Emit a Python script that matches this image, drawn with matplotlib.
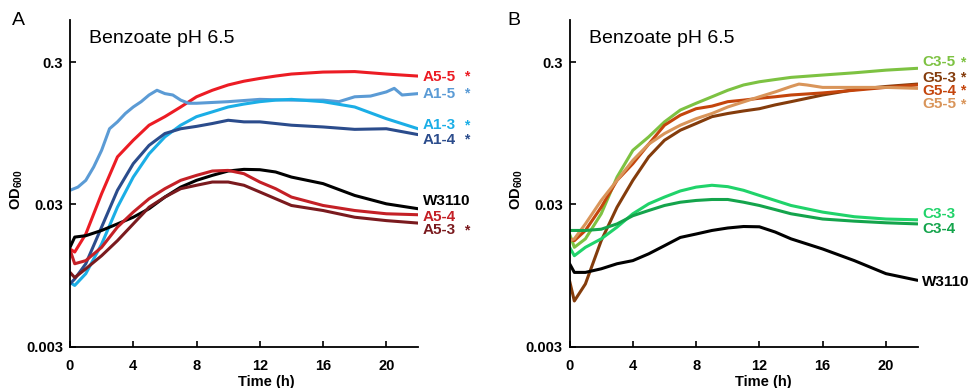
import matplotlib
matplotlib.use('Agg')
import matplotlib.pyplot as plt
from matplotlib.transforms import blended_transform_factory

plt.rcParams['font.family'] = ['Liberation Sans', 'DejaVu Sans']

# common time grid (h)
t = [0, 0.3, 1, 2, 3, 4, 5, 6, 7, 8, 9, 10, 11, 12, 13, 14, 16, 18, 20, 22]

# ---- panel A ----
a5_5 = [0.0146, 0.0139, 0.0186, 0.0357, 0.0647, 0.0847, 0.108, 0.124, 0.145, 0.171,
        0.190, 0.207, 0.220, 0.230, 0.239, 0.247, 0.255, 0.257, 0.247, 0.239]
t_a1_5 = [0, 0.5, 1, 1.5, 2, 2.5, 3, 3.5, 4, 4.5, 5, 5.5, 6, 6.5, 7, 7.5, 8,
          10, 12, 14, 16, 17, 18, 19, 20, 20.5, 21, 22]
a1_5 = [0.0377, 0.0397, 0.0443, 0.0550, 0.072, 0.102, 0.114, 0.1305, 0.145, 0.158,
        0.176, 0.190, 0.180, 0.176, 0.162, 0.154, 0.154, 0.158, 0.164, 0.162,
        0.162, 0.158, 0.171, 0.173, 0.185, 0.196, 0.176, 0.180]
a1_3 = [0.0085, 0.0081, 0.0098, 0.0158, 0.0287, 0.0467, 0.068, 0.0894, 0.108, 0.124,
        0.134, 0.145, 0.152, 0.158, 0.162, 0.164, 0.158, 0.145, 0.120, 0.102]
a1_4 = [0.0083, 0.0090, 0.0115, 0.0208, 0.0377, 0.058, 0.078, 0.0944, 0.102, 0.106,
        0.111, 0.117, 0.114, 0.114, 0.111, 0.108, 0.105, 0.101, 0.102, 0.0928]
w3110_a = [0.0150, 0.0177, 0.0181, 0.0197, 0.0219, 0.0244, 0.028, 0.0338, 0.0397, 0.0443,
           0.048, 0.0515, 0.0529, 0.0526, 0.0507, 0.0467, 0.042, 0.0347, 0.0303, 0.028]
a5_4 = [0.0144, 0.0115, 0.0121, 0.0150, 0.0208, 0.0265, 0.0329, 0.0387, 0.0443, 0.048,
        0.0515, 0.052, 0.0493, 0.0431, 0.0387, 0.0338, 0.0295, 0.0272, 0.0258, 0.0254]
a5_3 = [0.0100, 0.0092, 0.0106, 0.0131, 0.0167, 0.0219, 0.0287, 0.0338, 0.0387, 0.0409,
        0.0431, 0.0431, 0.0409, 0.0367, 0.0329, 0.0295, 0.0272, 0.0244, 0.0231, 0.0222]

# ---- panel B ----
t_b = [0, 0.3, 1, 2, 3, 4, 5, 6, 7, 8, 9, 10, 11, 12, 13, 14, 16, 18, 20, 22]
c3_5 = [0.0186, 0.0150, 0.0172, 0.0258, 0.0467, 0.072, 0.0894, 0.114, 0.138, 0.154,
        0.171, 0.190, 0.207, 0.218, 0.226, 0.234, 0.243, 0.252, 0.263, 0.271]
g5_3 = [0.0087, 0.0063, 0.0083, 0.0167, 0.0287, 0.0443, 0.0647, 0.0847, 0.0996, 0.111,
        0.124, 0.1305, 0.136, 0.141, 0.150, 0.158, 0.176, 0.192, 0.202, 0.210]
g5_4 = [0.0172, 0.0167, 0.0197, 0.0287, 0.0443, 0.058, 0.0795, 0.108, 0.127, 0.141,
        0.147, 0.158, 0.162, 0.167, 0.171, 0.176, 0.182, 0.190, 0.199, 0.207]
t_g5_5 = [0, 0.3, 1, 2, 3, 4, 5, 6, 7, 8, 9, 10, 12, 13, 14, 14.5, 15, 16, 18, 20, 22]
g5_5 = [0.0167, 0.0172, 0.0219, 0.032, 0.0443, 0.0612, 0.0795, 0.0944, 0.108, 0.120,
        0.1305, 0.145, 0.171, 0.185, 0.202, 0.210, 0.207, 0.199, 0.199, 0.199, 0.196]
c3_3 = [0.0150, 0.0131, 0.0150, 0.0172, 0.0208, 0.0258, 0.0303, 0.0338, 0.0373, 0.0397,
        0.0409, 0.0400, 0.0377, 0.0347, 0.0320, 0.0295, 0.0265, 0.0246, 0.0237, 0.0234]
c3_4 = [0.0197, 0.0197, 0.0197, 0.0201, 0.0219, 0.025, 0.0272, 0.0295, 0.0311, 0.0320,
        0.0325, 0.0325, 0.0311, 0.0295, 0.0276, 0.0258, 0.0237, 0.0229, 0.0223, 0.0219]
w3110_b = [0.0115, 0.0100, 0.0100, 0.0106, 0.0115, 0.0121, 0.0135, 0.0154, 0.0176, 0.0186,
           0.0197, 0.0205, 0.0210, 0.0209, 0.0192, 0.0172, 0.0146, 0.0121, 0.0098, 0.0088]

# label texts, label heights (OD) and whether a star is shown
labels_a = ['A5-5', 'A1-5', 'A1-3', 'A1-4', 'W3110', 'A5-4', 'A5-3']
label_y_a = [0.236, 0.180, 0.108, 0.0855, 0.0315, 0.0246, 0.0197]
stars_a = [True, True, True, True, False, False, True]
colors_a = ['#EC1C24', '#5B9BD5', '#1BAEE6', '#2B4C8C', '#000000', '#C42026', '#7A1A1E']

labels_b = ['C3-5', 'G5-3', 'G5-4', 'G5-5', 'C3-3', 'C3-4', 'W3110']
label_y_b = [0.30, 0.233, 0.188, 0.152, 0.0258, 0.0202, 0.0085]
stars_b = [True, True, True, True, False, False, False]
colors_b = ['#7DC242', '#843C0C', '#C4450C', '#D9955A', '#20D36A', '#14A44C', '#000000']

series_a = [(t, a5_5), (t_a1_5, a1_5), (t, a1_3), (t, a1_4), (t, w3110_a), (t, a5_4), (t, a5_3)]
series_b = [(t_b, c3_5), (t_b, g5_3), (t_b, g5_4), (t_g5_5, g5_5), (t_b, c3_3), (t_b, c3_4), (t_b, w3110_b)]

fig = plt.figure(figsize=(9.72, 3.88), dpi=100)
ax_a = fig.add_axes([0.072, 0.106, 0.358, 0.842])
ax_b = fig.add_axes([0.586, 0.106, 0.358, 0.842])


def draw_panel(ax, series, labels, label_y, stars, colors, star_x, time_x):
    for (tx, vals), c in zip(series, colors):
        ax.plot(tx, vals, color=c, lw=2.2, solid_capstyle='round')
    ax.set_yscale('log')
    ax.set_xlim(0, 22)
    ax.set_ylim(0.003, 0.59)
    ax.set_yticks([0.003, 0.03, 0.3])
    ax.set_yticklabels(['0.003', '0.03', '0.3'])
    ax.yaxis.set_minor_locator(plt.NullLocator())
    ax.set_xticks([0, 4, 8, 12, 16, 20])
    for s in ['top', 'right']:
        ax.spines[s].set_visible(False)
    for s in ['left', 'bottom']:
        ax.spines[s].set_linewidth(1.3)
    ax.tick_params(direction='in', length=4, width=1.2, labelsize=10.5, pad=5)
    ax.tick_params(axis='x', pad=9)
    for lab in ax.get_xticklabels() + ax.get_yticklabels():
        lab.set_fontweight('bold')
    ax.set_xlabel('Time (h)', fontsize=10.5, fontweight='bold')
    ax.xaxis.set_label_coords(time_x, -0.085)
    ax.set_ylabel(r'OD$_{\mathregular{600}}$', fontsize=10.5, fontweight='bold')
    ax.yaxis.set_label_coords(-0.128, 0.48)
    ax.text(0.055, 0.945, 'Benzoate pH 6.5', transform=ax.transAxes,
            fontsize=14, va='center', ha='left')
    trans = blended_transform_factory(ax.transAxes, ax.transData)
    for lab, yv, st, c in zip(labels, label_y, stars, colors):
        ax.text(1.014, yv, lab, transform=trans, color=c, fontsize=11,
                fontweight='bold', va='center', ha='left', clip_on=False)
        if st:
            ax.text(star_x, yv, '*', transform=trans, color=c, fontsize=10,
                    fontweight='bold', va='center', ha='center', clip_on=False)


draw_panel(ax_a, series_a, labels_a, label_y_a, stars_a, colors_a, 1.141, 0.563)
draw_panel(ax_b, series_b, labels_b, label_y_b, stars_b, colors_b, 1.129, 0.557)

fig.text(0.012, 0.948, 'A', fontsize=14, va='center')
fig.text(0.522, 0.948, 'B', fontsize=14, va='center')

plt.savefig('out.png', dpi=100)
